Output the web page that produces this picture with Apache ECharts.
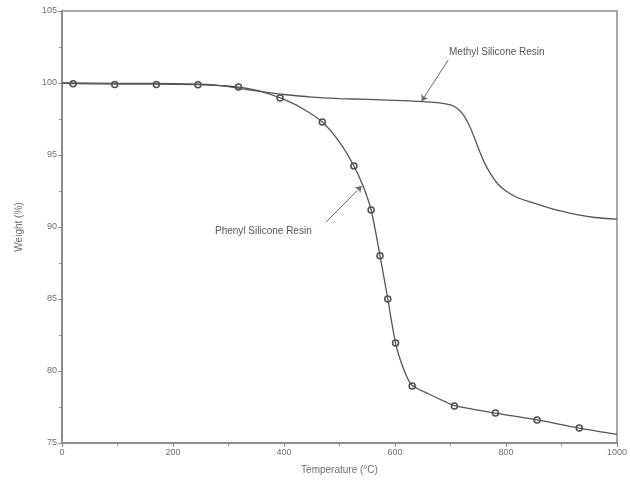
<!DOCTYPE html>
<html><head><meta charset="utf-8">
<script src="https://cdn.jsdelivr.net/npm/echarts@6/dist/echarts.min.js"></script>
<style>html,body{margin:0;padding:0;background:#fff}#c{width:630px;height:489px}</style>
</head><body><div id="c"></div>
<script>
var methylCurve = [[0,100],[100,99.98],[200,99.95],[260,99.9],[290,99.8],[320,99.62],[360,99.4],[400,99.2],[450,99.02],[500,98.92],[550,98.86],[600,98.8],[650,98.7],[680,98.62],[700,98.48],[712,98.25],[722,97.85],[732,97.2],[742,96.3],[752,95.3],[762,94.4],[772,93.7],[785,93.0],[800,92.5],[820,92.05],[845,91.72],[870,91.42],[900,91.1],[930,90.84],[960,90.66],[1000,90.55]];
var phenylCurve = [[0,100],[20,99.95],[95,99.92],[170,99.92],[245,99.89],[285,99.82],[318,99.72],[355,99.45],[393,98.96],[430,98.3],[469,97.29],[500,95.9],[526,94.24],[543,92.8],[557,91.18],[573,88.0],[587,85.0],[601,81.94],[612,80.5],[622,79.55],[631,79.0],[661,78.4],[691,77.85],[707,77.6],[781,77.08],[856,76.6],[932,76.04],[1000,75.6]];
var phenylMarkers = [[20,99.95],[95,99.9],[170,99.9],[245,99.88],[318,99.72],[393,98.96],[469,97.29],[526,94.24],[557,91.18],[573,88.0],[587,85.0],[601,81.94],[631,78.96],[707,77.57],[781,77.08],[856,76.6],[932,76.04]];
var methylArrow = [[696,101.6],[648,98.75]];
var phenylArrow = [[476,90.35],[540,92.85]];
var labels = ['Methyl Silicone Resin','Phenyl Silicone Resin'];

var axisColor = '#8c8c8c', txt = '#6e6e6e', lineColor = '#555';
var chart = echarts.init(document.getElementById('c'));
chart.setOption({
  animation:false,
  grid:{left:62,right:11,top:11,bottom:46,show:true,borderColor:axisColor,borderWidth:1.5},
  xAxis:{type:'value',min:0,max:1000,interval:200,
    name:'Temperature (°C)',nameLocation:'middle',nameGap:22,
    nameTextStyle:{color:txt,fontSize:10,fontFamily:'Liberation Sans'},
    axisLine:{lineStyle:{color:axisColor,width:2}},
    axisTick:{show:true,length:4,lineStyle:{color:axisColor}},
    minorTick:{show:true,splitNumber:2,length:3,lineStyle:{color:axisColor}},
    splitLine:{show:false},
    axisLabel:{color:txt,fontSize:9,fontFamily:'Liberation Sans',margin:5,formatter:function(v){return String(v);}}},
  yAxis:{type:'value',min:75,max:105,interval:5,
    name:'Weight (%)',nameLocation:'middle',nameGap:38,nameRotate:90,
    nameTextStyle:{color:txt,fontSize:10,fontFamily:'Liberation Sans'},
    axisLine:{show:true,lineStyle:{color:axisColor,width:2}},
    axisTick:{show:true,length:4,lineStyle:{color:axisColor}},
    minorTick:{show:true,splitNumber:2,length:3,lineStyle:{color:axisColor}},
    splitLine:{show:false},
    axisLabel:{color:txt,fontSize:9,fontFamily:'Liberation Sans',margin:5}},
  series:[
    {type:'line',data:methylCurve,smooth:0.3,showSymbol:false,lineStyle:{color:lineColor,width:1.3},
     markLine:{silent:true,symbol:['none','arrow'],symbolSize:6,label:{show:false},
       lineStyle:{color:'#666',width:1,type:'solid'},
       data:[[{coord:methylArrow[0]},{coord:methylArrow[1]}],[{coord:phenylArrow[0]},{coord:phenylArrow[1]}]]}},
    {type:'line',data:phenylCurve,smooth:0.3,showSymbol:false,lineStyle:{color:lineColor,width:1.3}},
    {type:'scatter',data:phenylMarkers,symbol:'circle',symbolSize:6,
     itemStyle:{color:'#fff',borderColor:'#222',borderWidth:1.5}}
  ],
  graphic:[
    {type:'text',left:449,top:47,style:{text:labels[0],fill:'#555',font:'10px "Liberation Sans"'}},
    {type:'text',left:215,top:226,style:{text:labels[1],fill:'#555',font:'10px "Liberation Sans"'}}
  ]
});
</script></body></html>
